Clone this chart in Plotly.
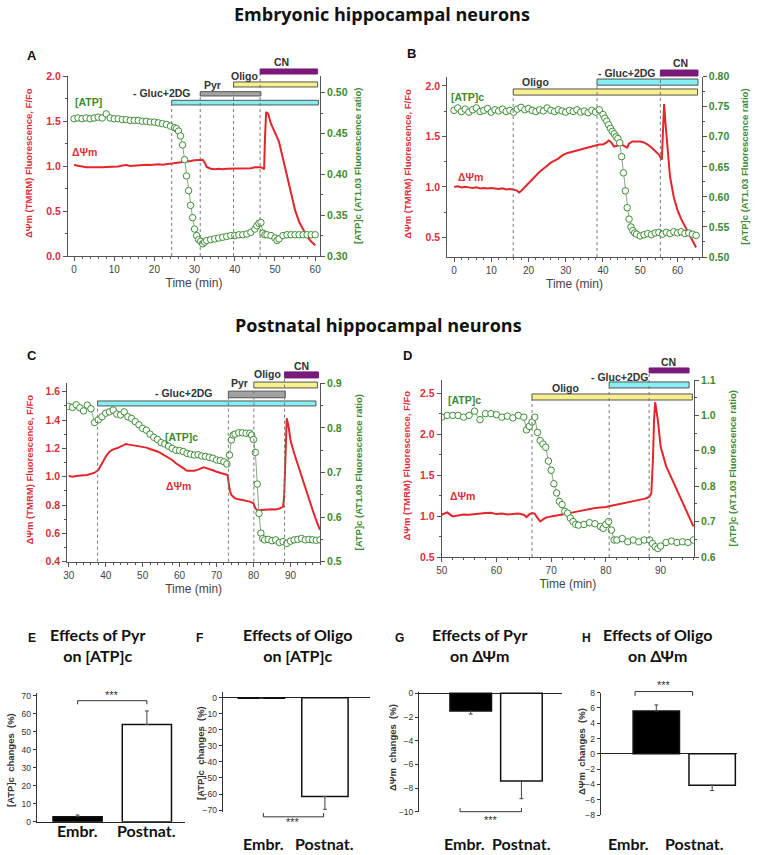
import plotly.graph_objects as go

W, H = 758, 855

# ---------------- DATA ----------------
# Panel A (embryonic, Pyr then Oligo)
a_psi_t = [0,1,2,3,4,5,6,7,8,9,10,11,12,13,14,15,16,17,18,19,20,21,22,23,24,25,26,27,28,29,30,31,32,32.5,33,
           34,35,36,37,38,39,40,41,42,43,44,45,46,46.5,47,47.3,47.5,47.8,48.3,49,50,51,52,53,54,55,56,57,58,59,60]
a_psi_v = [1.01,1.0,0.99,0.985,0.985,0.985,0.98,0.985,0.99,0.99,0.99,0.995,1.005,1.01,1.0,1.005,1.01,1.01,1.015,1.01,
           1.015,1.02,1.015,1.02,1.025,1.03,1.035,1.04,1.045,1.055,1.065,1.07,1.07,1.04,0.99,
           0.97,0.965,0.97,0.965,0.97,0.97,0.97,0.975,0.97,0.975,0.975,0.985,0.99,0.985,0.975,0.965,1.3,1.6,1.58,
           1.47,1.37,1.27,1.08,0.88,0.69,0.51,0.38,0.29,0.215,0.16,0.12]
a_atp_t = [0,1,2,3,4,5,6,7,8,9,10,11,12,13,14,15,16,17,18,19,20,21,22,23,24,25,
           25.5,26,26.5,27,27.5,28,28.5,29,29.5,30,30.5,31,31.5,32,32.5,33,
           34,35,36,37,38,39,40,41,42,43,44,45,45.5,46,46.5,47,47.5,48,
           49,50,50.5,51,52,53,54,55,56,57,58,59,60]
a_atp_v = [0.468,0.469,0.468,0.469,0.468,0.469,0.470,0.469,0.474,0.469,0.468,
           0.468,0.467,0.467,0.466,0.466,0.466,0.465,0.465,0.464,0.464,
           0.463,0.462,0.461,0.459,0.457,
           0.456,0.453,0.447,0.436,0.418,0.398,0.380,0.362,0.347,0.333,0.325,0.320,0.318,0.315,0.317,0.319,
           0.320,0.321,0.322,0.323,0.324,0.325,0.325,0.326,0.326,0.327,0.329,0.333,
           0.337,0.340,0.341,0.328,0.326,0.326,
           0.325,0.322,0.319,0.321,0.325,0.326,0.326,0.326,0.326,0.326,0.326,0.326,0.326]
a_treat_names = ["- Gluc+2DG", "Pyr", "Oligo", "CN"]
a_treat_start = [24.3, 31.4, 39.7, 46.3]
a_treat_end = [60.8, 46.5, 60.6, 60.6]

# Panel B (embryonic, Oligo then -Gluc+2DG)
b_psi_t = [0,1,2,3,4,5,6,7,8,9,10,11,12,13,14,15,16,17,17.5,
           18,19,20,21,22,23,24,25,26,27,28,29,30,31,32,33,34,35,36,37,38,39,40,41,41.5,
           42,43,44,45,46,46.5,47,48,49,50,51,52,53,54,55,55.8,56.1,56.4,56.8,57.3,
           58,59,60,61,62,63,64,65]
b_psi_v = [1.0,1.005,0.995,1.0,0.995,0.99,0.995,0.985,0.99,0.985,0.99,0.985,0.98,0.985,0.975,0.98,0.975,0.96,0.945,
           0.96,1.0,1.04,1.08,1.11,1.15,1.18,1.21,1.24,1.26,1.28,1.31,1.33,1.34,1.35,1.36,1.37,1.38,1.39,1.40,1.41,1.42,1.42,1.44,1.46,
           1.45,1.40,1.41,1.42,1.40,1.39,1.43,1.45,1.45,1.45,1.44,1.42,1.39,1.35,1.32,1.27,1.50,1.82,1.62,1.40,
           1.10,0.90,0.77,0.68,0.61,0.54,0.46,0.40]
b_atp_t = [0,1,2,3,4,5,6,7,8,9,10,11,12,13,14,15,16,17,18,19,20,21,22,23,24,25,26,27,28,29,30,
           31,32,33,34,35,36,37,38,39,40,
           40.5,41,41.5,42,42.5,43,43.5,44,44.5,45,45.5,46,46.5,47,47.5,48,48.5,
           49,50,51,52,53,54,55,56,57,58,59,60,61,62,63,64,65]
b_atp_v = [0.744,0.748,0.742,0.746,0.741,0.745,0.748,0.742,0.744,0.747,0.741,
           0.745,0.743,0.746,0.742,0.744,0.741,0.746,0.749,0.745,0.747,
           0.744,0.742,0.745,0.743,0.748,0.744,0.742,0.745,0.743,0.741,
           0.744,0.742,0.745,0.741,0.743,0.740,0.744,0.741,0.745,0.737,
           0.731,0.726,0.720,0.714,0.709,0.705,0.700,0.697,0.690,0.667,0.640,0.610,0.582,0.563,0.550,0.544,0.540,
           0.538,0.535,0.537,0.539,0.537,0.540,0.541,0.538,0.541,0.539,0.542,0.540,0.542,0.539,0.540,0.538,0.536]
b_treat_names = ["Oligo", "- Gluc+2DG", "CN"]
b_treat_start = [15.9, 38.4, 55.4]
b_treat_end = [65.4, 65.5, 65.5]

# Panel C (postnatal, -Gluc+2DG then Pyr, Oligo)
c_psi_t = [30,31,32,33,34,35,36,37,38,39,40,41,42,43,44,45,45.5,46,47,48,49,50,51,52,53,54,55,56,57,58,59,60,
           61,62,63,64,65,66,66.5,67,68,69,70,71,72,73,73.3,73.6,74,75,76,77,78,79,80,80.5,81,81.5,
           82,83,84,85,86,87,88,88.3,88.6,89,89.5,90,91,92,93,94,95,96,97,98]
c_psi_v = [1.005,1.0,1.005,1.01,1.01,1.012,1.02,1.028,1.047,1.094,1.141,1.176,1.193,1.20,1.212,1.225,1.231,
           1.228,1.224,1.22,1.215,1.212,1.205,1.195,1.188,1.178,1.165,1.15,1.135,1.118,1.095,1.075,
           1.06,1.042,1.04,1.042,1.05,1.06,1.066,1.062,1.056,1.045,1.035,1.028,1.019,1.012,0.953,0.90,
           0.871,0.847,0.84,0.835,0.83,0.824,0.812,0.776,0.765,0.76,
           0.765,0.769,0.768,0.77,0.769,0.775,0.788,0.859,1.118,1.412,1.353,
           1.259,1.165,1.082,1.005,0.929,0.85,0.765,0.69,0.624]
c_atp_t = [30,31,32,33,34,35,36,37,38,39,40,41,42,43,44,45,46,47,48,49,50,51,52,53,54,55,56,57,58,59,60,
           61,62,63,64,65,66,67,68,69,70,71,72,
           72.8,73.5,74,74.5,75,76,77,78,79,79.5,80,80.5,81,81.5,82,82.5,
           83,84,85,86,87,88,89,90,91,92,93,94,95,96,97,98]
c_atp_v = [0.848,0.846,0.852,0.845,0.838,0.851,0.843,0.812,0.818,0.825,0.833,0.836,0.840,0.831,0.829,0.836,
           0.825,0.821,0.814,0.807,0.799,0.795,0.786,0.779,0.774,0.767,0.764,0.759,0.754,0.750,0.749,
           0.747,0.743,0.741,0.739,0.740,0.737,0.736,0.734,0.732,0.728,0.727,0.724,
           0.719,0.739,0.773,0.784,0.786,0.789,0.789,0.788,0.788,0.784,0.774,0.745,0.674,0.608,0.564,0.552,
           0.549,0.550,0.547,0.549,0.543,0.545,0.541,0.546,0.549,0.550,0.552,0.549,0.550,0.549,0.548,0.549]
c_treat_names = ["- Gluc+2DG", "Pyr", "Oligo", "CN"]
c_treat_start = [37.8, 73.2, 80.1, 88.4]
c_treat_end = [96.9, 88.6, 97.3, 97.6]

# Panel D (postnatal, Oligo then -Gluc+2DG)
d_psi_t = [50,51,52,53,54,55,56,57,58,59,60,61,62,63,64,65,65.5,66,66.5,67,67.3,68,68.5,
           69,70,71,72,73,74,75,76,77,78,79,80,81,82,83,84,85,86,87,87.5,88,88.3,88.6,88.8,89,89.5,
           90,91,92,93,94,95,96]
d_psi_v = [1.016,1.045,0.996,1.01,1.02,1.016,1.025,1.03,1.037,1.04,1.024,1.03,1.02,1.025,1.03,1.016,0.988,1.02,1.037,1.03,0.996,0.935,0.963,
           0.98,0.996,1.005,1.016,1.03,1.045,1.06,1.077,1.085,1.098,1.105,1.110,1.125,1.138,1.155,1.171,1.185,1.199,1.21,1.220,1.240,1.28,1.687,2.17,2.39,2.17,
           1.85,1.61,1.463,1.321,1.179,1.016,0.874]
d_atp_t = [50,51,52,53,54,55,56,57,58,59,60,61,62,63,64,65,
           65.5,66,66.5,67,67.5,68,68.5,69,69.5,70,70.5,71,71.5,72,72.5,73,73.5,74,74.5,75,
           76,77,78,79,79.5,80,80.5,81,81.5,82,
           83,84,85,86,87,88,88.5,89,89.5,90,91,92,93,94,95,96]
d_atp_v = [0.995,1.0,1.0,1.0,0.995,1.0,1.012,0.988,1.005,1.005,1.002,0.995,0.998,0.993,1.0,0.995,
           0.959,0.969,0.981,0.995,0.952,0.929,0.919,0.910,0.871,0.845,0.807,0.781,0.757,0.748,0.729,0.724,0.710,0.700,0.692,0.690,
           0.692,0.697,0.694,0.686,0.681,0.692,0.700,0.676,0.648,0.648,
           0.652,0.643,0.648,0.643,0.648,0.648,0.638,0.629,0.624,0.631,0.641,0.645,0.641,0.643,0.641,0.648]
d_treat_names = ["Oligo", "- Gluc+2DG", "CN"]
d_treat_start = [66.5, 80.6, 87.9]
d_treat_end = [95.8, 95.2, 95.2]

# Bar panels E-H
groups = ["Embr.", "Postnat."]
e_pyr_atp = [2.8, 54.0]
e_pyr_atp_sem = [0.9, 7.5]
f_oligo_atp = [-0.3, -61.5]
f_oligo_atp_sem = [0.2, 8.0]
g_pyr_psi = [-1.5, -7.4]
g_pyr_psi_sem = [0.25, 1.5]
h_oligo_psi = [5.6, -4.1]
h_oligo_psi_sem = [0.8, 0.7]

for t, v in [(a_psi_t, a_psi_v), (a_atp_t, a_atp_v), (b_psi_t, b_psi_v), (b_atp_t, b_atp_v),
             (c_psi_t, c_psi_v), (c_atp_t, c_atp_v), (d_psi_t, d_psi_v), (d_atp_t, d_atp_v)]:
    assert len(t) == len(v), (len(t), len(v))

# ---------------- STYLE / LAYOUT ----------------
RED = "#e3262b"
RED_TXT = "#d9303a"
GREEN = "#3d8f35"
GREEN_TXT = "#3b8a32"
AXC = "#555555"
FONT = "Liberation Sans, Arial, sans-serif"
TITLE_FONT = "Lato, Open Sans, sans-serif"
HEAD_FONT = "Open Sans, Lato, sans-serif"
TREAT_COLORS = {"- Gluc+2DG": "#84eef0", "Pyr": "#a3a3a3", "Oligo": "#f7f08c", "CN": "#7a1a78"}


def px(x):
    return x / W


def py(y):
    return 1 - y / H


def ann(**kw):
    base = dict(showarrow=False, xanchor="center", yanchor="middle")
    base.update(kw)
    return base


panels = [
    dict(letter="A", letter_xy=(32, 55), xdom=(68, 320), ydom=(76, 256),
         xrange=[-1.5, 61.2], xdtick=10, lrange=[0, 2.0], ldtick=0.5, lfmt=".1f",
         rrange=[0.30, 0.5204], rdtick=0.05, rfmt=".2f",
         psi=(a_psi_t, a_psi_v), atp=(a_atp_t, a_atp_v),
         treat=(a_treat_names, a_treat_start, a_treat_end),
         levels={"- Gluc+2DG": (0.839, 0.865), "Pyr": (0.889, 0.913), "Oligo": (0.939, 0.967), "CN": (1.011, 1.039)},
         labels={"- Gluc+2DG": (21.8, 0.905), "Pyr": (34.4, 0.952), "Oligo": (42.3, 1.0), "CN": (51.7, 1.076)},
         atp_label=("[ATP]", 3.6, 1.715), psi_label=(2.7, 1.16),
         ltitle_x=28, rtitle_x=357),
    dict(letter="B", letter_xy=(411, 53), xdom=(447.3, 701.7), ydom=(76.7, 257),
         xrange=[-1.8, 66.5], xdtick=10, lrange=[0.305, 2.092], ldtick=0.5, lfmt=".1f",
         rrange=[0.50, 0.80], rdtick=0.05, rfmt=".2f",
         psi=(b_psi_t, b_psi_v), atp=(b_atp_t, b_atp_v),
         treat=(b_treat_names, b_treat_start, b_treat_end),
         levels={"Oligo": (0.898, 0.932), "- Gluc+2DG": (0.953, 0.987), "CN": (1.004, 1.037)},
         labels={"Oligo": (22.0, 0.971), "- Gluc+2DG": (46.3, 1.02), "CN": (60.9, 1.076)},
         atp_label=("[ATP]c", 3.6, 1.894), psi_label=(4.5, 1.10),
         ltitle_x=408, rtitle_x=745),
    dict(letter="C", letter_xy=(32, 355), xdom=(67.3, 320), ydom=(383.3, 561.7),
         xrange=[29.6, 98.0], xdtick=10, lrange=[0.4, 1.659], ldtick=0.2, lfmt=".1f",
         rrange=[0.5, 0.9], rdtick=0.1, rfmt=".1f",
         psi=(c_psi_t, c_psi_v), atp=(c_atp_t, c_atp_v),
         treat=(c_treat_names, c_treat_start, c_treat_end),
         levels={"- Gluc+2DG": (0.873, 0.901), "Pyr": (0.919, 0.956), "Oligo": (0.974, 1.007), "CN": (1.03, 1.064)},
         labels={"- Gluc+2DG": (61.0, 0.944), "Pyr": (76.1, 1.002), "Oligo": (83.9, 1.052), "CN": (93.1, 1.097)},
         atp_label=("[ATP]c", 60.6, 1.28), psi_label=(59.7, 0.936),
         ltitle_x=29, rtitle_x=358),
    dict(letter="D", letter_xy=(407, 355), xdom=(441.7, 694), ydom=(380, 557),
         xrange=[50.0, 96.1], xdtick=10, lrange=[0.5, 2.662], ldtick=0.5, lfmt=".1f",
         rrange=[0.6, 1.1], rdtick=0.1, rfmt=".1f",
         psi=(d_psi_t, d_psi_v), atp=(d_atp_t, d_atp_v),
         treat=(d_treat_names, d_treat_start, d_treat_end),
         levels={"Oligo": (0.887, 0.921), "- Gluc+2DG": (0.955, 0.989), "CN": (1.04, 1.068)},
         labels={"Oligo": (72.7, 0.957), "- Gluc+2DG": (82.5, 1.015), "CN": (91.5, 1.103)},
         atp_label=("[ATP]c", 54.1, 2.42), psi_label=(53.8, 1.24),
         ltitle_x=406, rtitle_x=732),
]

fig = go.Figure()
layout = dict(width=W, height=H, margin=dict(l=0, r=0, t=0, b=0, pad=0, autoexpand=False), autosize=False,
              paper_bgcolor="white", plot_bgcolor="rgba(0,0,0,0)", showlegend=False,
              font=dict(family=FONT, size=10, color="#333"))
shapes = []
annotations = []

for i, p in enumerate(panels):
    xid = "x" if i == 0 else f"x{i+1}"
    yl_id = "y" if i == 0 else f"y{2*i+1}"
    yr_id = f"y{2*i+2}"
    xkey = "xaxis" if i == 0 else f"xaxis{i+1}"
    ylkey = "yaxis" if i == 0 else f"yaxis{2*i+1}"
    yrkey = f"yaxis{2*i+2}"
    x0, x1 = p["xdom"]
    ytop, ybot = p["ydom"]
    layout[xkey] = dict(domain=[px(x0), px(x1)], anchor=yl_id, range=p["xrange"], dtick=p["xdtick"], tick0=0,
                        showline=True, linecolor=AXC, linewidth=1, ticks="outside", ticklen=4, tickcolor=AXC,
                        minor=dict(ticks="outside", ticklen=2, dtick=2, tickcolor=AXC),
                        showgrid=False, zeroline=False, tickfont=dict(size=10, color="#444"),
                        title=dict(text="Time (min)", font=dict(size=12, color="#444"), standoff=4))
    layout[ylkey] = dict(domain=[py(ybot), py(ytop)], anchor=xid, range=p["lrange"], dtick=p["ldtick"], tick0=0,
                         tickformat=p["lfmt"], showline=True, linecolor=AXC, linewidth=1, ticks="outside",
                         ticklen=4, tickcolor=AXC, minor=dict(ticks="outside", ticklen=2, dtick=p["ldtick"] / 2,
                                                              tickcolor=AXC),
                         showgrid=False, zeroline=False,
                         tickfont=dict(size=10.5, color=RED_TXT, weight="bold"))
    layout[yrkey] = dict(overlaying=yl_id, anchor=xid, side="right", range=p["rrange"], dtick=p["rdtick"],
                         tick0=0, tickformat=p["rfmt"], showline=True, linecolor=AXC, linewidth=1,
                         ticks="outside", ticklen=4, tickcolor=AXC,
                         minor=dict(ticks="outside", ticklen=2, dtick=p["rdtick"] / 2, tickcolor=AXC),
                         showgrid=False, zeroline=False,
                         tickfont=dict(size=10.5, color=GREEN_TXT, weight="bold"))

    t_atp, v_atp = p["atp"]
    fig.add_trace(go.Scatter(x=t_atp, y=v_atp, xaxis=xid, yaxis=yr_id, mode="lines+markers",
                             line=dict(color="#6b8f63", width=0.8),
                             marker=dict(symbol="circle", size=6.5, color="white",
                                         line=dict(color=GREEN, width=1)),
                             hoverinfo="skip"))
    t_psi, v_psi = p["psi"]
    fig.add_trace(go.Scatter(x=t_psi, y=v_psi, xaxis=xid, yaxis=yl_id, mode="lines",
                             line=dict(color=RED, width=2), hoverinfo="skip"))

    names, starts, ends = p["treat"]
    for name, s, e in zip(names, starts, ends):
        lo, hi = p["levels"][name]
        shapes.append(dict(type="line", xref=xid, yref=f"{yl_id} domain", x0=s, x1=s, y0=0, y1=lo,
                           line=dict(color="#777", width=1, dash="dot"), layer="above"))
        shapes.append(dict(type="rect", xref=xid, yref=f"{yl_id} domain", x0=s, x1=e, y0=lo, y1=hi,
                           fillcolor=TREAT_COLORS[name],
                           line=dict(color="#555" if name != "CN" else TREAT_COLORS[name], width=1),
                           layer="above"))
        lt, ly = p["labels"][name]
        annotations.append(ann(text=f"<b>{name}</b>", x=lt, y=ly, xref=xid, yref=f"{yl_id} domain",
                               font=dict(size=10.5, color="#333")))

    lab = p["atp_label"]
    annotations.append(ann(text=f"<b>{lab[0]}</b>", x=lab[1], y=lab[2], xref=xid, yref=yl_id,
                           font=dict(size=10.5, color=GREEN_TXT)))
    annotations.append(ann(text="<b>ΔΨm</b>", x=p["psi_label"][0], y=p["psi_label"][1], xref=xid, yref=yl_id,
                           font=dict(size=10.5, color=RED_TXT)))
    ymid = (ytop + ybot) / 2
    annotations.append(ann(text="<b>ΔΨm (TMRM) Fluorescence, F/Fo</b>", x=px(p["ltitle_x"]), y=py(ymid - 3),
                           xref="paper", yref="paper", textangle=-90, font=dict(size=9.5, color=RED_TXT)))
    annotations.append(ann(text="<b>[ATP]c (AT1.03 Fluorescence ratio)</b>", x=px(p["rtitle_x"]), y=py(ymid),
                           xref="paper", yref="paper", textangle=-90, font=dict(size=9.5, color=GREEN_TXT)))
    lx, lyy = p["letter_xy"]
    annotations.append(ann(text=f"<b>{p['letter']}</b>", x=px(lx), y=py(lyy), xref="paper", yref="paper",
                           font=dict(size=13, color="#111")))

# main section titles
annotations.append(ann(text="<b>Embryonic hippocampal neurons</b>", x=px(382), y=py(14), xref="paper",
                       yref="paper", font=dict(size=18, color="#111", family=HEAD_FONT)))
annotations.append(ann(text="<b>Postnatal hippocampal neurons</b>", x=px(378), y=py(325), xref="paper",
                       yref="paper", font=dict(size=18, color="#111", family=HEAD_FONT)))

# ---------------- bar panels ----------------
bar_panels = [
    dict(letter="E", letter_xy=(32, 638), title="Effects of Pyr<br>on [ATP]c", title_x=97,
         vals=e_pyr_atp, sem=e_pyr_atp_sem, xdom=(36.7, 185), ydom=(693.3, 821.7), xrange=[-0.59, 1.55],
         yrange=[0, 71.3], dtick=10, width=0.71, ytitle="[ATP]c  changes  (%)", ytitle_x=10, ytitle_y=760,
         bracket=(0.0, 1.0, 67.2, 65.2, 70.5), base_line=True,
         cat_x=(0.0, 1.0), cat_y=830),
    dict(letter="F", letter_xy=(199, 638), title="Effects of Oligo<br>on [ATP]c", title_x=297,
         vals=f_oligo_atp, sem=f_oligo_atp_sem, xdom=(222.7, 370), ydom=(691.7, 811.7), xrange=[-0.61, 1.71],
         yrange=[-71, 3.7], dtick=10, width=0.73, ytitle="[ATP]c  changes  (%)", ytitle_x=200, ytitle_y=753,
         bracket=(0.03, 0.98, -74.2, -71.8, -77.5), base_line=False,
         cat_x=(0.03, 1.0), cat_y=843),
    dict(letter="G", letter_xy=(399, 638), title="Effects of Pyr<br>on ΔΨm", title_x=479,
         vals=g_pyr_psi, sem=g_pyr_psi_sem, xdom=(419, 562), ydom=(691.7, 811.7), xrange=[-1.02, 1.80],
         yrange=[-10, 0.14], dtick=2, width=0.82, ytitle="ΔΨm  changes  (%)", ytitle_x=392, ytitle_y=748,
         bracket=(-0.21, 1.0, -10.0, -9.7, -10.7), base_line=False,
         cat_x=(-0.13, 1.0), cat_y=843),
    dict(letter="H", letter_xy=(586, 638), title="Effects of Oligo<br>on ΔΨm", title_x=657,
         vals=h_oligo_psi, sem=h_oligo_psi_sem, xdom=(600.7, 737.3), ydom=(692.7, 815), xrange=[-0.995, 1.45],
         yrange=[-8, 8], dtick=2, width=0.83, ytitle="ΔΨm  changes  (%)", ytitle_x=581, ytitle_y=752,
         bracket=(-0.38, 0.65, 8.15, 7.6, 9.0), base_line=False,
         cat_x=(-0.49, 0.68), cat_y=843),
]

for j, bp in enumerate(bar_panels):
    xn = 5 + j
    yn = 9 + j
    xid, yid = f"x{xn}", f"y{yn}"
    x0, x1 = bp["xdom"]
    ytop, ybot = bp["ydom"]
    layout[f"xaxis{xn}"] = dict(domain=[px(x0), px(x1)], anchor=yid, range=bp["xrange"], showticklabels=False,
                                ticks="", showgrid=False, zeroline=False, showline=bp["base_line"],
                                linecolor="#222", linewidth=1.2)
    layout[f"yaxis{yn}"] = dict(domain=[py(ybot), py(ytop)], anchor=xid, range=bp["yrange"], dtick=bp["dtick"],
                                showline=True, linecolor="#333", linewidth=1, ticks="outside", ticklen=3,
                                tickcolor="#333", showgrid=False, zeroline=not bp["base_line"],
                                zerolinecolor="#222", zerolinewidth=1.2,
                                tickfont=dict(size=8.5, color="#333"))
    plus = [s if v >= 0 else 0 for v, s in zip(bp["vals"], bp["sem"])]
    minus = [s if v < 0 else 0 for v, s in zip(bp["vals"], bp["sem"])]
    fig.add_trace(go.Bar(x=[0, 1], y=bp["vals"], xaxis=xid, yaxis=yid, width=bp["width"],
                         marker=dict(color=["#000000", "#ffffff"], line=dict(color="#111", width=1.5)),
                         error_y=dict(type="data", symmetric=False, array=plus, arrayminus=minus,
                                      color="#444", thickness=1, width=2),
                         hoverinfo="skip"))
    # significance bracket
    bx0, bx1, by, btick, sy = bp["bracket"]
    lo, hi = bp["yrange"]
    fd = (by - lo) / (hi - lo)
    ft = (btick - lo) / (hi - lo)
    shapes.append(dict(type="path", xref=xid, yref=f"{yid} domain",
                       path=f"M {bx0},{ft} L {bx0},{fd} L {bx1},{fd} L {bx1},{ft}",
                       line=dict(color="#333", width=1)))
    annotations.append(ann(text="***", x=(bx0 + bx1) / 2, y=(sy - lo) / (hi - lo), xref=xid,
                           yref=f"{yid} domain", font=dict(size=11, color="#333")))
    # title, letter, y title, category labels
    annotations.append(ann(text=f"<b>{bp['title']}</b>", x=px(bp["title_x"]), y=py(645), xref="paper",
                           yref="paper", font=dict(size=16, color="#111", family=TITLE_FONT)))
    lx, lyy = bp["letter_xy"]
    annotations.append(ann(text=f"<b>{bp['letter']}</b>", x=px(lx), y=py(lyy), xref="paper", yref="paper",
                           font=dict(size=12, color="#111")))
    annotations.append(ann(text=f"<b>{bp['ytitle']}</b>".replace("  ", "\u00a0\u00a0"),
                           x=px(bp["ytitle_x"]), y=py(bp["ytitle_y"]), xref="paper", yref="paper",
                           textangle=-90, font=dict(size=9.5, color="#333")))
    for k, g in enumerate(groups):
        annotations.append(ann(text=f"<b>{g}</b>", x=bp["cat_x"][k], y=py(bp["cat_y"]), xref=xid, yref="paper",
                               font=dict(size=16, color="#111", family=TITLE_FONT)))

layout["shapes"] = shapes
layout["annotations"] = annotations
fig.update_layout(**layout)
# remove the browser's default 8px body margin so the figure sits at the page origin
fig.write_html("out.html", config={"displayModeBar": False},
               post_script="document.body.style.margin='0';")
